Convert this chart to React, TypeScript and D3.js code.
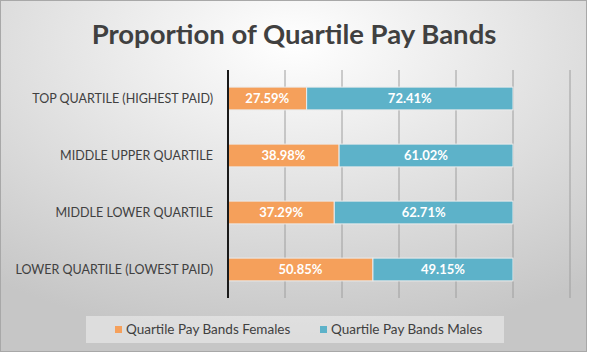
import React from "react";
import * as d3 from "d3";

const categories = [
  "TOP QUARTILE (HIGHEST PAID)",
  "MIDDLE UPPER QUARTILE",
  "MIDDLE LOWER QUARTILE",
  "LOWER QUARTILE (LOWEST PAID)",
];
const females = [27.59, 38.98, 37.29, 50.85];
const males = [72.41, 61.02, 62.71, 49.15];
const seriesNames = ["Quartile Pay Bands Females", "Quartile Pay Bands Males"];
const xTicks = [0, 20, 40, 60, 80, 100, 120];

const W = 590;
const H = 355;
const ORANGE = "#F5A05B";
const BLUE = "#5DB2C9";
const FONT = "Lato, 'Open Sans', sans-serif";

export default function App() {
  const x = d3.scaleLinear().domain([0, 120]).range([228, 570]);
  const y = d3.scaleBand<string>().domain(categories).range([70, 298]).paddingInner(0.6).paddingOuter(0.3);
  const bh = y.bandwidth();

  return (
    <svg width={W} height={H} style={{ position: "absolute", left: 0, top: 0 }} fontFamily={FONT}>
      <defs>
        <radialGradient id="bg" cx="50%" cy="12%" r="85%" fx="50%" fy="12%">
          <stop offset="0%" stopColor="#ffffff" />
          <stop offset="100%" stopColor="#c6c6c6" />
        </radialGradient>
      </defs>
      <rect x={0} y={0} width={W} height={H} fill="#ffffff" />
      <rect x={0.5} y={0.5} width={586} height={351} fill="url(#bg)" stroke="#a8a8a8" strokeWidth={1} />
      <text x={294} y={44} textAnchor="middle" fontSize={27.5} fontWeight={700} fill="#404040">
        Proportion of Quartile Pay Bands
      </text>
      {xTicks.slice(1).map((t) => (
        <line key={t} x1={x(t)} x2={x(t)} y1={70} y2={298} stroke="#9e9e9e" strokeWidth={1} />
      ))}
      {categories.map((c, i) => {
        const y0 = y(c)!;
        const f = females[i];
        const m = males[i];
        return (
          <g key={c}>
            <rect x={x(0)} y={y0} width={x(f) - x(0)} height={bh} fill={ORANGE} stroke="#ececec" strokeWidth={1} />
            <rect x={x(f)} y={y0} width={x(f + m) - x(f)} height={bh} fill={BLUE} stroke="#ececec" strokeWidth={1} />
            <text x={(x(0) + x(f)) / 2} y={y0 + bh / 2} dy="0.35em" textAnchor="middle" fill="#fff" fontWeight={700} fontSize={13}>
              {f.toFixed(2)}%
            </text>
            <text x={(x(f) + x(f + m)) / 2} y={y0 + bh / 2} dy="0.35em" textAnchor="middle" fill="#fff" fontWeight={700} fontSize={13}>
              {m.toFixed(2)}%
            </text>
            <text x={213} y={y0 + bh / 2} dy="0.35em" textAnchor="end" fill="#404040" fontSize={12.5}>
              {c}
            </text>
          </g>
        );
      })}
      <line x1={x(0)} x2={x(0)} y1={70} y2={298} stroke="#1a1a1a" strokeWidth={2} />
      <rect x={86} y={316} width={418} height={27} fill="#ffffff" fillOpacity={0.4} />
      {seriesNames.map((s, i) => {
        const lx = i === 0 ? 115 : 320;
        return (
          <g key={s}>
            <rect x={lx} y={326} width={7} height={7} fill={i === 0 ? ORANGE : BLUE} />
            <text x={lx + 11} y={329.5} dy="0.35em" fill="#404040" fontSize={13.5}>
              {s}
            </text>
          </g>
        );
      })}
    </svg>
  );
}
